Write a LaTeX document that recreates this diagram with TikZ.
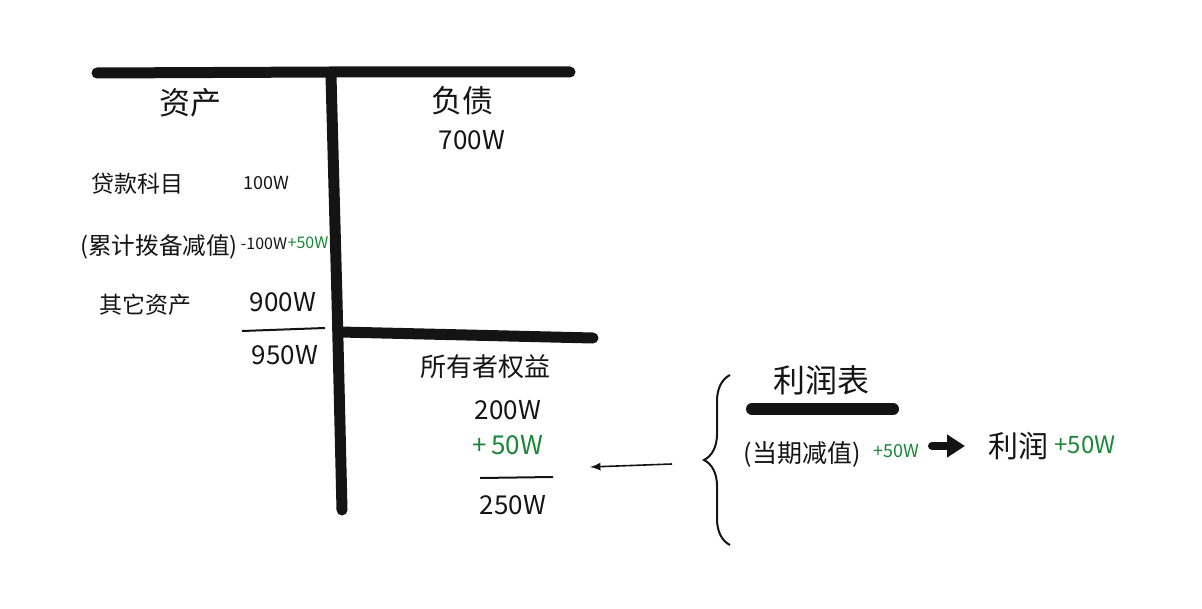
\documentclass[tikz,border=0pt]{standalone}
\usepackage{fontspec}
\setmainfont{Noto Sans CJK SC}
\usetikzlibrary{decorations.pathreplacing,arrows.meta}
\definecolor{plusgreen}{RGB}{25,135,55}
\definecolor{ink}{RGB}{20,20,20}

\begin{document}
\begin{tikzpicture}[x=0.5pt, y=-0.5pt, >=latex, font=\fontsize{13}{15}\selectfont, ink,
		txt/.style={inner sep=0pt, anchor=center},
		plus/.style={txt, plusgreen},
		small/.style={font=\fontsize{9}{11}\selectfont},
		big/.style={font=\fontsize{15.5}{18}\selectfont}]
				%Bildbereich
				\useasboundingbox (0,0) rectangle (1202,609);
				% T-Konto zeichnen
				\draw[line width=5.5pt, line cap=round] (97,73) -- (330,72) -- (570,72);
				\draw[line width=5.5pt, line cap=round] (331,76) -- (337,300) -- (342,510);
				\draw[line width=5.5pt, line cap=round] (340,332) -- (593,338);
				% Aktivseite
				\node[txt, big] (aktiva) at (190,103) {资产};
				\node[txt, font=\fontsize{11.5}{13}\selectfont] (kredit) at (137,184) {贷款科目};
				\node[txt, small] (kreditwert) at (266,183) {100W};
				\node[txt, font=\fontsize{11.8}{14}\selectfont] (wb) at (159,247) {(累计拨备减值)};
				\node[txt, font=\fontsize{8}{10}\selectfont] (wbwert) at (264,244) {-100W};
				\node[plus, font=\fontsize{8}{10}\selectfont] (wbplus) at (308,243) {+50W};
				\node[txt, font=\fontsize{11.5}{13}\selectfont] (sonst) at (145,305) {其它资产};
				\node[txt] (sonstwert) at (283,302) {900W};
				\draw[line width=1pt] (242,331) -- (325,328);
				\node[txt] (summe) at (285,355) {950W};
				% Passivseite
				\node[txt, big] (passiva) at (462,101) {负债};
				\node[txt] (passivwert) at (472,140) {700W};
				\node[txt] (ek) at (485,367) {所有者权益};
				\node[txt] (ekwert) at (508,410) {200W};
				\node[plus] (ekplus) at (508,445) {+\,50W};
				\draw[line width=1pt] (480,478) -- (553,477);
				\node[txt] (eksumme) at (513,505) {250W};
				% GuV
				\coordinate (pfeilstart) at (672,464);
				\coordinate (pfeilende) at (590,467);
				\draw[->, line width=0.8pt] (pfeilstart) -- (pfeilende);
				\draw[line width=1pt, decorate, decoration={brace, amplitude=13pt}] (730,545) -- (730,375);
				\node[txt, font=\fontsize{16}{18}\selectfont] (guv) at (821,380) {利润表};
				\draw[line width=6pt, line cap=round] (752,409) -- (893,409);
				\node[txt, font=\fontsize{12.5}{14}\selectfont] (abschr) at (802,454) {(当期减值)};
				\node[plus, small] (abschrplus) at (896,451) {+50W};
				\node[txt, font=\fontsize{15}{17}\selectfont] (gewinn) at (1018,446) {利润};
				\node[plus, font=\fontsize{12}{14}\selectfont] (gewinnplus) at (1085,445) {+50W};
				\coordinate (dickstart) at (932,446);
				\coordinate (dickende) at (965,446);
				\draw[-{Triangle[length=9pt,width=11pt]}, line width=4pt, line cap=round] (dickstart) -- (dickende);
			\end{tikzpicture}
\end{document}
